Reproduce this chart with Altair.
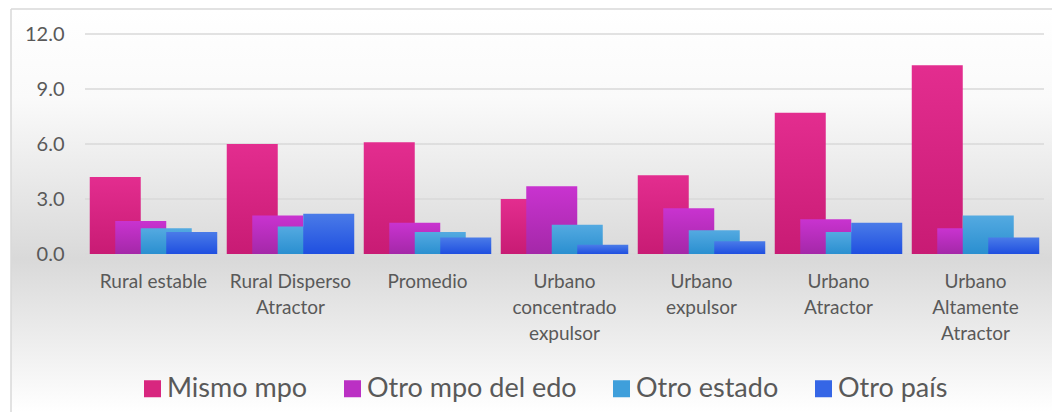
import altair as alt
import pandas as pd

categories = [
    "Rural estable",
    "Rural Disperso\nAtractor",
    "Promedio",
    "Urbano\nconcentrado\nexpulsor",
    "Urbano\nexpulsor",
    "Urbano\nAtractor",
    "Urbano\nAltamente\nAtractor",
]
series = ["Mismo mpo", "Otro mpo del edo", "Otro estado", "Otro país"]

mismo_mpo = [4.2, 6.0, 6.1, 3.0, 4.3, 7.7, 10.3]
otro_mpo_edo = [1.8, 2.1, 1.7, 3.7, 2.5, 1.9, 1.4]
otro_estado = [1.4, 1.5, 1.2, 1.6, 1.3, 1.2, 2.1]
otro_pais = [1.2, 2.2, 0.9, 0.5, 0.7, 1.7, 0.9]

y_ticks = [0.0, 3.0, 6.0, 9.0, 12.0]

solid_colors = ["#d8267f", "#bb30c4", "#3f9fdb", "#3566e6"]
grad_colors = [
    ("#e32d8f", "#c81b74"),
    ("#c933d0", "#a428a8"),
    ("#54aae1", "#2a8fd0"),
    ("#4a7be8", "#1f4fe0"),
]

values_by_series = [mismo_mpo, otro_mpo_edo, otro_estado, otro_pais]
rows = []
for s, vals in zip(series, values_by_series):
    for c, v in zip(categories, vals):
        rows.append({"category": c, "series": s, "value": v, "zero": 0.0})
df = pd.DataFrame(rows)

W, H = 959, 220
FONT = "Lato"
TXT = "#595959"

x_enc = alt.X(
    "category:N",
    sort=categories,
    scale=alt.Scale(paddingInner=0.2555, paddingOuter=0.1277),
    axis=alt.Axis(
        labelAngle=0,
        labelExpr="split(datum.label, '\\n')",
        ticks=False,
        domain=False,
        labelPadding=18,
        labelFontSize=19,
        labelLineHeight=26,
        labelFont=FONT,
        labelColor=TXT,
        labelOverlap=False,
        title=None,
        zindex=1,
    ),
)
xo_enc = alt.XOffset("series:N", sort=series, scale=alt.Scale(domain=series, paddingInner=0, paddingOuter=0))
y_axis = alt.Axis(
    values=y_ticks,
    format=".1f",
    grid=False,
    ticks=False,
    domain=False,
    labelPadding=21,
    labelFontSize=20,
    labelFont=FONT,
    labelColor=TXT,
    title=None,
    zindex=1,
)
y_scale = alt.Scale(domain=[0, 12], nice=False, zero=True)

bg = alt.Chart(pd.DataFrame({"a": [0]})).mark_rect(
    color=alt.LinearGradient(
        gradient="linear",
        x1=0, x2=0, y1=0, y2=1,
        stops=[
            alt.GradientStop(offset=0, color="#ffffff"),
            alt.GradientStop(offset=0.22, color="#fafafa"),
            alt.GradientStop(offset=0.62, color="#d9d9d9"),
            alt.GradientStop(offset=1, color="#ffffff"),
        ],
    )
).encode(
    x=alt.value(-74), x2=alt.value(W + 8), y=alt.value(-25), y2=alt.value(H + 158)
)

border_top = alt.Chart(pd.DataFrame({"a": [0]})).mark_rule(color="#d9d9d9", strokeWidth=1.5).encode(
    x=alt.value(-74), x2=alt.value(W + 8), y=alt.value(-25)
)
border_left = alt.Chart(pd.DataFrame({"a": [0]})).mark_rule(color="#d9d9d9", strokeWidth=1.5).encode(
    x=alt.value(-74), y=alt.value(-25), y2=alt.value(H + 158)
)

grid = alt.Chart(pd.DataFrame({"tick": y_ticks})).mark_rule(color="#d9d9d9", strokeWidth=1.5).encode(
    y=alt.Y("tick:Q", scale=y_scale, axis=y_axis)
)

bar_layers = []
for s, (top, bottom) in zip(series, grad_colors):
    layer = alt.Chart(df).transform_filter(alt.datum.series == s).mark_bar(
        width=51,
        color=alt.LinearGradient(
            gradient="linear",
            x1=0, x2=0, y1=0, y2=1,
            stops=[
                alt.GradientStop(offset=0, color=top),
                alt.GradientStop(offset=1, color=bottom),
            ],
        ),
    ).encode(
        x=x_enc,
        xOffset=xo_enc,
        y=alt.Y("value:Q", scale=y_scale, axis=y_axis),
    )
    bar_layers.append(layer)

legend_layer = alt.Chart(df).mark_bar(width=51, strokeWidth=0).encode(
    x=x_enc,
    xOffset=xo_enc,
    y=alt.Y("zero:Q", scale=y_scale, axis=y_axis),
    color=alt.Color(
        "series:N",
        sort=series,
        scale=alt.Scale(domain=series, range=solid_colors),
        legend=alt.Legend(
            title=None,
            orient="none",
            direction="horizontal",
            legendX=54,
            legendY=341,
            symbolType="square",
            symbolSize=289,
            symbolStrokeWidth=0,
            labelFontSize=27,
            labelFont=FONT,
            labelColor=TXT,
            labelOffset=1,
            labelLimit=400,
            columnPadding=31,
            padding=0,
        ),
    ),
)

chart = alt.layer(bg, border_top, border_left, grid, *bar_layers, legend_layer).properties(
    width=W,
    height=H,
    padding={"left": 2, "top": 0, "right": 0, "bottom": 0},
).configure_view(stroke=None).configure(background="#ffffff")

chart.save("out.html", embed_options={"renderer": "svg", "actions": False})
